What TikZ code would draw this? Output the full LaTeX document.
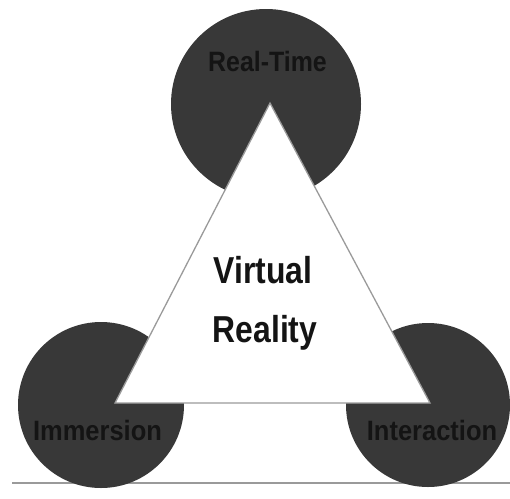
\documentclass[tikz,border=0pt]{standalone}
\usepackage{fontspec}
\setmainfont{Liberation Sans}
\definecolor{discdark}{HTML}{383838}
\definecolor{edgegray}{HTML}{9A9A9A}
\definecolor{lblink}{HTML}{141414}
\newcommand\condtext[2]{\scalebox{#1}[1]{#2}}
\begin{document}
\begin{tikzpicture}[x=1pt,y=-1pt,
  disc/.style={circle,fill=discdark,draw=none,inner sep=0pt},
  lbl/.style={anchor=base,inner sep=0pt,text=lblink,font=\fontsize{28}{30}\selectfont\bfseries},
  vrlbl/.style={anchor=base,inner sep=0pt,text=lblink,font=\fontsize{37.5}{40}\selectfont\bfseries}]
\useasboundingbox (0,0) rectangle (510,498);
% base line
\coordinate (bl0) at (12,483);
\coordinate (bl1) at (510,483);
\draw[edgegray,line width=2pt] (bl0) -- (bl1);
% discs
\node[disc,minimum size=190pt] (top) at (266,104) {};
\node[disc,minimum size=166pt] (left) at (101,405) {};
\node[disc,minimum size=164pt] (right) at (428,405) {};
% triangle
\coordinate (apex) at (270,103);
\coordinate (bleft) at (115,403);
\coordinate (bright) at (430,403);
\draw[edgegray,line width=1.3pt,fill=white] (apex) -- (bleft) -- (bright) -- cycle;
% labels
\node[lbl] (rt) at (267.5,71) {\condtext{0.89}{Real-Time}};
\node[lbl] (im) at (97.5,440) {\condtext{0.91}{Immersion}};
\node[lbl] (ia) at (432,440) {\condtext{0.91}{Interaction}};
\node[vrlbl] (vr1) at (263,283) {\condtext{0.85}{Virtual}};
\node[vrlbl] (vr2) at (265,342) {\condtext{0.85}{Reality}};
\end{tikzpicture}
\end{document}
